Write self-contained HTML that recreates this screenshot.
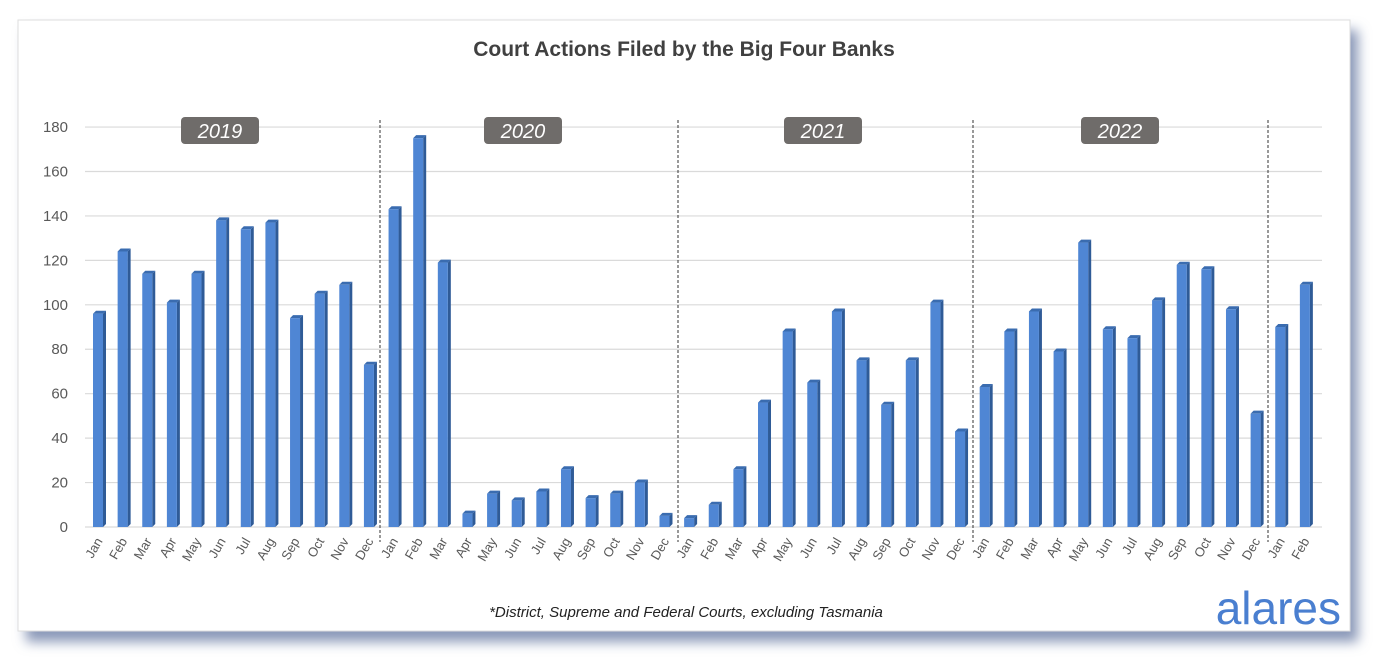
<!DOCTYPE html><html><head><style>body{margin:0;background:#fff;}svg{display:block}</style></head><body>
<svg width="1386" height="671" xmlns="http://www.w3.org/2000/svg" font-family="Liberation Sans, sans-serif">
<defs><filter id="sh" x="-5%" y="-5%" width="110%" height="115%"><feGaussianBlur stdDeviation="6"/></filter></defs>
<rect x="26" y="30" width="1332" height="612" fill="#8a98b8" filter="url(#sh)"/>
<rect x="18" y="20" width="1332" height="611" fill="#fff" stroke="#ddd"/>
<text x="684" y="56" text-anchor="middle" font-size="21" font-weight="bold" fill="#404040">Court Actions Filed by the Big Four Banks</text>
<g stroke="#dadada" stroke-width="1.2" id="grid"></g>
<g font-size="15" fill="#595959" text-anchor="end" id="ylab"></g>
<g id="bars"></g>
<g font-size="13" fill="#595959" id="xlab"></g>
<g stroke="#333" stroke-dasharray="3,2" stroke-width="1">
<line x1="380" y1="120" x2="380" y2="542"/><line x1="678" y1="120" x2="678" y2="542"/><line x1="973" y1="120" x2="973" y2="542"/><line x1="1268" y1="120" x2="1268" y2="542"/></g>
<g font-size="20" font-style="italic" fill="#fff" text-anchor="middle">
<rect x="181" y="117" width="78" height="27" rx="4" fill="#6f6c6a"/><text x="220" y="138">2019</text>
<rect x="484" y="117" width="78" height="27" rx="4" fill="#6f6c6a"/><text x="523" y="138">2020</text>
<rect x="784" y="117" width="78" height="27" rx="4" fill="#6f6c6a"/><text x="823" y="138">2021</text>
<rect x="1081" y="117" width="78" height="27" rx="4" fill="#6f6c6a"/><text x="1120" y="138">2022</text></g>
<text x="686" y="617" text-anchor="middle" font-size="15" font-style="italic" fill="#222">*District, Supreme and Federal Courts, excluding Tasmania</text>
<text x="1341" y="624" text-anchor="end" font-size="46" fill="#4a7fd0">alares</text>
<script>
var ns="http://www.w3.org/2000/svg";function el(p,t,a,tx){var e=document.createElementNS(ns,t);for(var k in a)e.setAttribute(k,a[k]);if(tx!=null)e.textContent=tx;document.getElementById(p).appendChild(e);}
for(var v=0;v<=180;v+=20){var y=527-v*2.222;el("grid","line",{x1:85,x2:1322,y1:y,y2:y});el("ylab","text",{x:68,y:y+5},v);}
var d=[96,124,114,101,114,138,134,137,94,105,109,73,143,175,119,6,15,12,16,26,13,15,20,5,4,10,26,56,88,65,97,75,55,75,101,43,63,88,97,79,128,89,85,102,118,116,98,51,90,109];
var m=["Jan","Feb","Mar","Apr","May","Jun","Jul","Aug","Sep","Oct","Nov","Dec"];
d.forEach(function(v,i){var c=99+24.63*i,y=527-v*2.222,l=c-6;
el("bars","polygon",{points:(l+10)+","+y+" "+(l+13)+","+(y-3)+" "+(l+13)+",524 "+(l+10)+",527",fill:"#2f5b97"});
el("bars","polygon",{points:l+","+y+" "+(l+3)+","+(y-3)+" "+(l+13)+","+(y-3)+" "+(l+10)+","+y,fill:"#3a6cb0"});
el("bars","rect",{x:l,y:y,width:10,height:527-y,fill:"#4f86d4"});
el("xlab","text",{x:c+4,y:541,"text-anchor":"end",transform:"rotate(-60 "+(c+4)+" 541)"},m[i%12]);});
</script>
</svg></body></html>
